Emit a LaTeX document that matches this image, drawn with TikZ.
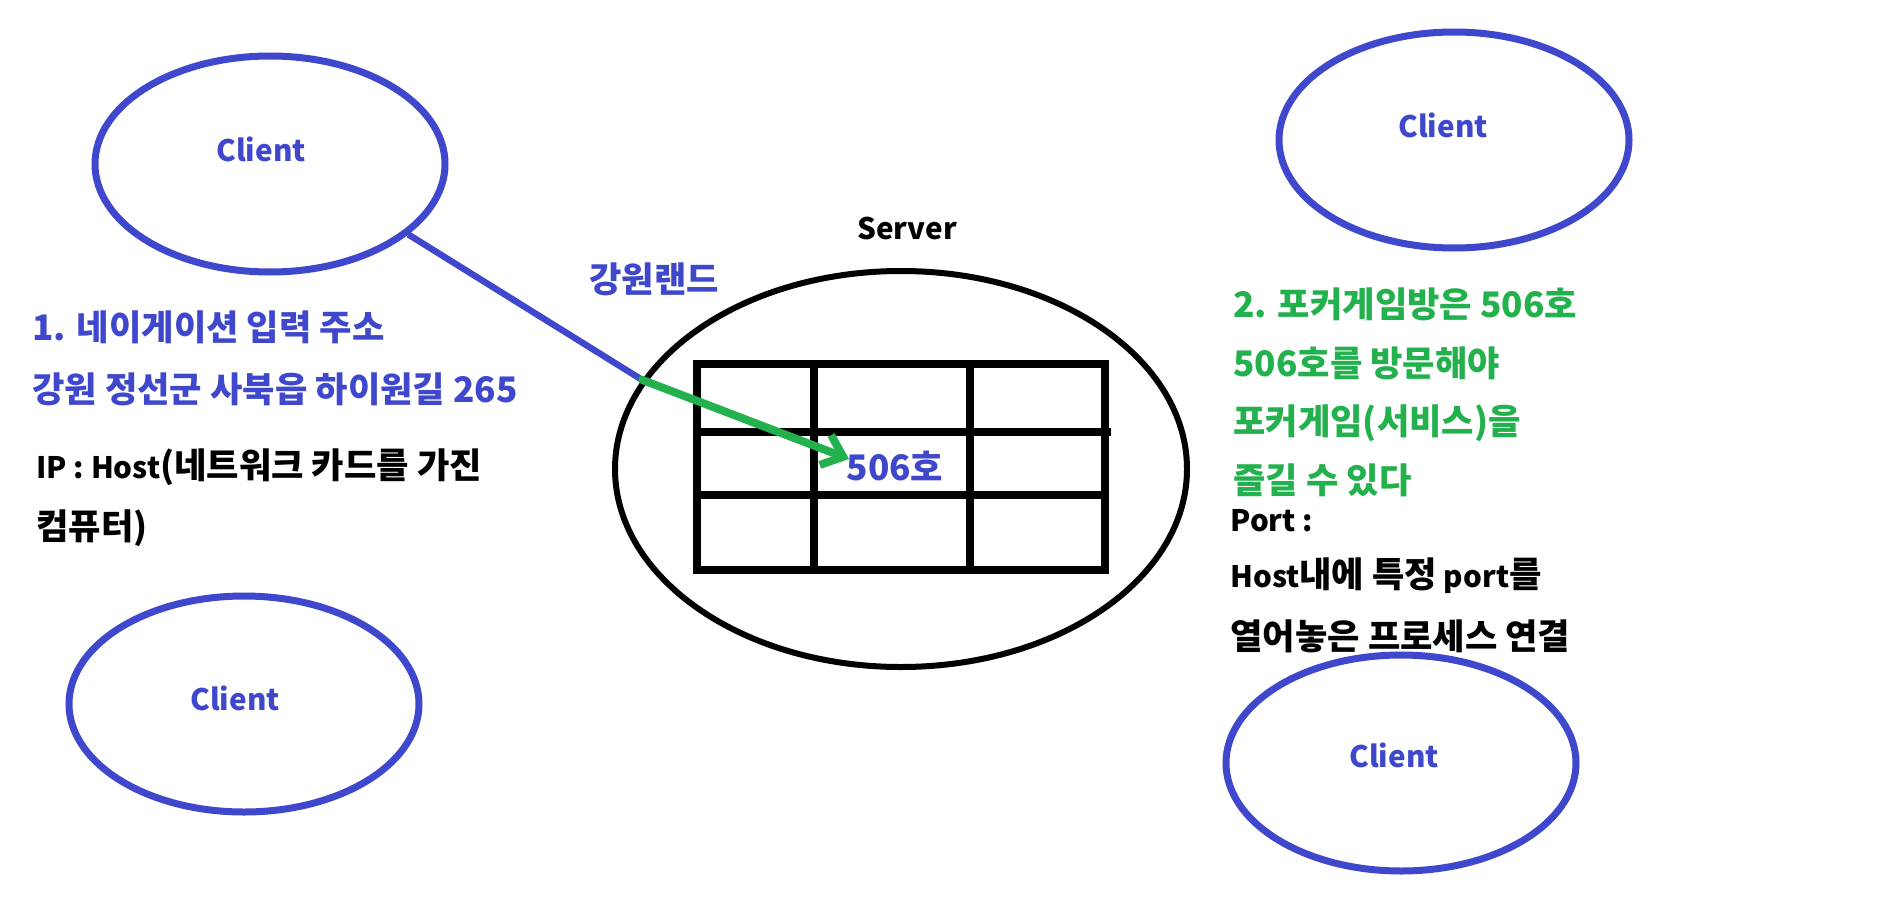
\documentclass[tikz,border=0pt]{standalone}
\usepackage{fontspec}
\newfontfamily\kr{Noto Sans CJK KR}
\usetikzlibrary{shapes.geometric,arrows.meta}
\definecolor{pblue}{HTML}{3F48CC}
\definecolor{pgreen}{HTML}{22B14C}
\newcommand\K[1]{{\fontsize{17.6pt}{20pt}\selectfont #1}}
\tikzset{
  clientshape/.style={ellipse,draw=pblue,line width=3.5pt,minimum width=175pt,minimum height=108pt,inner sep=0pt},
  txt/.style={font=\kr\bfseries\fontsize{14.8pt}{17pt}\selectfont,inner sep=0pt},
  ltxt/.style={txt,anchor=west},
  gridline/.style={line width=3.6pt,black},
}
\begin{document}
\begin{tikzpicture}[x=0.5pt,y=-0.5pt]
\path[use as bounding box,fill=white] (0,0) rectangle (1883,904);
% clients
\node[clientshape] (c1) at (270,164) {};
\node[txt,text=pblue] (c1t) at (261,149) {Client};
\node[clientshape] (c2) at (1454,140) {};
\node[txt,text=pblue] (c2t) at (1443,125) {Client};
\node[clientshape] (c3) at (244,704) {};
\node[txt,text=pblue] (c3t) at (235,698) {Client};
\node[clientshape] (c4) at (1401,763) {};
\node[txt,text=pblue] (c4t) at (1394,755) {Client};
% server
\node[ellipse,draw=black,line width=3pt,minimum width=286pt,minimum height=198pt,inner sep=0pt] (srv) at (901,469) {};
\node[txt] (srvt) at (907,228) {Server};
\node[txt,text=pblue] (land) at (654,279) {\K{강원랜드}};
% grid
\draw[gridline] (697,364) rectangle (1105,570);
\draw[gridline] (814,364) -- (814,570);
\draw[gridline] (970,364) -- (970,570);
\draw[gridline] (697,432) -- (1111,432);
\draw[gridline] (697,495) -- (1105,495);
\node[txt,text=pblue] (room) at (895,466) {\K{506호}};
% connectors
\coordinate (tip) at (849,459);
\draw[pblue,line width=3.2pt] (c1.-27) -- (srv.161);
\draw[pgreen,line width=4pt,line cap=round,-{Straight Barb[length=9.5pt,width=16pt]}] (srv.161) -- (tip);
% left texts
\node[ltxt,text=pblue] (l1) at (32,327) {\K{1. 네이게이션 입력 주소}};
\node[ltxt,text=pblue] (l2) at (32,389) {\K{강원 정선군 사북읍 하이원길 265}};
\node[ltxt] (l3) at (36,467) {IP : Host\K{(네트워크 카드를 가진}};
\node[ltxt] (l4) at (36,528) {\K{컴퓨터)}};
% right texts
\node[ltxt,text=pgreen] (r1) at (1233,304) {\K{2. 포커게임방은 506호}};
\node[ltxt,text=pgreen] (r2) at (1233,363) {\K{506호를 방문해야}};
\node[ltxt,text=pgreen] (r3) at (1233,423) {\K{포커게임(서비스)을}};
\node[ltxt,text=pgreen] (r4) at (1233,480) {\K{즐길 수 있다}};
\node[ltxt] (r5) at (1230,521) {Port :};
\node[ltxt] (r6) at (1230,576) {Host\K{내에 특정} port\K{를}};
\node[ltxt] (r7) at (1230,636) {\K{열어놓은 프로세스 연결}};
\end{tikzpicture}
\end{document}
